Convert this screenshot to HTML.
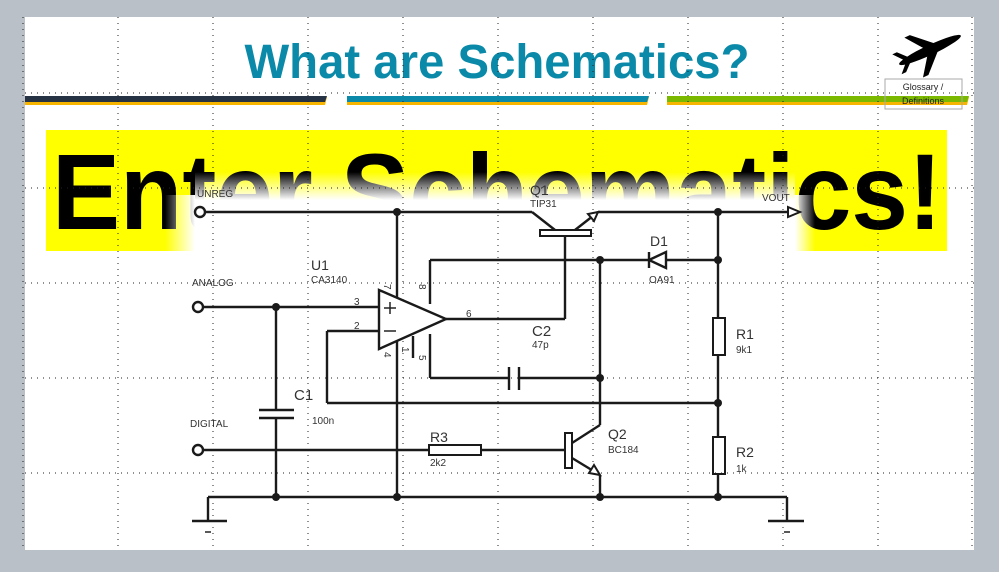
<!DOCTYPE html>
<html><head><meta charset="utf-8"><style>
html,body{margin:0;padding:0;background:#b9c0c7;}
svg{display:block;}
</style></head><body>
<svg width="999" height="572" viewBox="0 0 999 572" xmlns="http://www.w3.org/2000/svg">
<defs>
<linearGradient id="gt" x1="0" y1="0" x2="0" y2="1">
<stop offset="0" stop-color="#fff" stop-opacity="0"/><stop offset="1" stop-color="#fff" stop-opacity="1"/></linearGradient>
<linearGradient id="gl" x1="0" y1="0" x2="1" y2="0">
<stop offset="0" stop-color="#fff" stop-opacity="0"/><stop offset="1" stop-color="#fff" stop-opacity="1"/></linearGradient>
<linearGradient id="gr" x1="1" y1="0" x2="0" y2="0">
<stop offset="0" stop-color="#fff" stop-opacity="0"/><stop offset="1" stop-color="#fff" stop-opacity="1"/></linearGradient>
</defs>
<rect x="25" y="17" width="949" height="533" fill="#fff"/>
<text x="497" y="78" text-anchor="middle" font-family="Liberation Sans Narrow, Liberation Sans, sans-serif" font-weight="bold" font-size="48" fill="#0a8aa8" textLength="505" lengthAdjust="spacingAndGlyphs">What are Schematics?</text>
<g fill="#000" transform="translate(930,50) rotate(-25)">
<ellipse cx="0" cy="0" rx="34" ry="5"/>
<polygon points="-4,-3 -18,-22 -12,-22 8,-3"/>
<polygon points="-4,3 -18,22 -12,22 8,3"/>
<polygon points="-28,-2 -36,-12 -31,-12 -22,-2"/>
<polygon points="-28,2 -36,10 -31,10 -22,2"/>
</g>
<polygon points="25,97 327,97 325,105 25,105" fill="#f7b500"/>
<polygon points="25,96 327,96 325,102 25,102" fill="#253345"/>
<polygon points="347,97 649,97 647,105 347,105" fill="#f7b500"/>
<polygon points="347,96 649,96 647,102 347,102" fill="#0a8aa8"/>
<polygon points="667,97 969,97 967,105 667,105" fill="#f7b500"/>
<polygon points="667,96 969,96 967,102 667,102" fill="#7bb800"/>
<rect x="885" y="79" width="77" height="30" fill="none" stroke="#aaa" stroke-width="1"/>
<text x="923" y="90" text-anchor="middle" font-family="Liberation Sans, sans-serif" font-size="9" fill="#222">Glossary /</text>
<text x="923" y="104" text-anchor="middle" font-family="Liberation Sans, sans-serif" font-size="9" fill="#222">Definitions</text>
<rect x="46" y="130" width="901" height="121" fill="#ffff00"/>
<text x="52" y="229" font-family="Liberation Sans Narrow, Liberation Sans, sans-serif" font-weight="bold" font-size="108" fill="#000" textLength="890" lengthAdjust="spacingAndGlyphs">Enter Schematics!</text>
<rect x="195" y="172" width="600" height="28" fill="url(#gt)"/>
<rect x="195" y="200" width="600" height="350" fill="#fff"/>
<rect x="165" y="195" width="30" height="60" fill="url(#gl)"/>
<rect x="795" y="195" width="20" height="60" fill="url(#gr)"/>
<g stroke="#222" stroke-width="1" stroke-dasharray="1,5">
<line x1="23" y1="17" x2="23" y2="550"/>
<line x1="118" y1="17" x2="118" y2="550"/><line x1="213" y1="17" x2="213" y2="550"/>
<line x1="308" y1="17" x2="308" y2="550"/><line x1="403" y1="17" x2="403" y2="550"/>
<line x1="498" y1="17" x2="498" y2="550"/><line x1="593" y1="17" x2="593" y2="550"/>
<line x1="688" y1="17" x2="688" y2="550"/><line x1="783" y1="17" x2="783" y2="550"/>
<line x1="878" y1="17" x2="878" y2="550"/><line x1="972" y1="17" x2="972" y2="550"/>
<line x1="25" y1="93" x2="974" y2="93"/><line x1="25" y1="188" x2="974" y2="188"/>
<line x1="25" y1="283" x2="974" y2="283"/><line x1="25" y1="378" x2="974" y2="378"/>
<line x1="25" y1="473" x2="974" y2="473"/>
</g>
<g stroke="#1a1a1a" stroke-width="2.4" fill="none">
<circle cx="200" cy="212" r="5" fill="#fff"/>
<circle cx="198" cy="307" r="5" fill="#fff"/>
<circle cx="198" cy="450" r="5" fill="#fff"/>
<line x1="205" y1="212" x2="532" y2="212"/>
<line x1="532" y1="212" x2="555" y2="230"/>
<rect x="540" y="230" width="51" height="6" stroke-width="2"/>
<line x1="575" y1="230" x2="598" y2="212"/>
<polygon points="598,212 588,214 594,221" fill="#fff" stroke-width="2"/>
<line x1="598" y1="212" x2="788" y2="212"/>
<polygon points="788,207 800,212 788,217" fill="#fff" stroke-width="2"/>
<line x1="565" y1="236" x2="565" y2="319"/>
<line x1="446" y1="319" x2="565" y2="319"/>
<line x1="397" y1="212" x2="397" y2="497"/>
<polygon points="379,290 446,319 379,349" fill="#fff"/>
<line x1="430" y1="304" x2="430" y2="260"/>
<line x1="430" y1="260" x2="649" y2="260"/>
<line x1="649" y1="252" x2="649" y2="268"/>
<polygon points="649,260 666,252 666,268" fill="#fff"/>
<line x1="666" y1="260" x2="718" y2="260"/>
<line x1="413" y1="336" x2="413" y2="358"/>
<line x1="430" y1="334" x2="430" y2="378"/>
<line x1="430" y1="378" x2="509" y2="378"/>
<line x1="509" y1="367" x2="509" y2="390"/>
<line x1="519" y1="367" x2="519" y2="390"/>
<line x1="519" y1="378" x2="600" y2="378"/>
<line x1="203" y1="307" x2="379" y2="307"/>
<line x1="379" y1="331" x2="327" y2="331"/>
<line x1="327" y1="331" x2="327" y2="403"/>
<line x1="327" y1="403" x2="718" y2="403"/>
<line x1="276" y1="307" x2="276" y2="410"/>
<line x1="259" y1="410" x2="294" y2="410"/>
<line x1="259" y1="418" x2="294" y2="418"/>
<line x1="276" y1="418" x2="276" y2="497"/>
<line x1="203" y1="450" x2="429" y2="450"/>
<rect x="429" y="445" width="52" height="10" stroke-width="2"/>
<line x1="481" y1="450" x2="565" y2="450"/>
<rect x="565" y="433" width="7" height="35" stroke-width="2"/>
<line x1="572" y1="443" x2="600" y2="425"/>
<line x1="600" y1="425" x2="600" y2="260"/>
<line x1="572" y1="458" x2="600" y2="475"/>
<polygon points="600,475 589,473 594,465" fill="#fff" stroke-width="2"/>
<line x1="600" y1="475" x2="600" y2="497"/>
<line x1="718" y1="212" x2="718" y2="318"/>
<rect x="713" y="318" width="12" height="37" stroke-width="2"/>
<line x1="718" y1="355" x2="718" y2="437"/>
<rect x="713" y="437" width="12" height="37" stroke-width="2"/>
<line x1="718" y1="474" x2="718" y2="497"/>
<line x1="208" y1="497" x2="787" y2="497"/>
<line x1="208" y1="497" x2="208" y2="521"/>
<line x1="192" y1="521" x2="227" y2="521"/>
<line x1="787" y1="497" x2="787" y2="521"/>
<line x1="768" y1="521" x2="804" y2="521"/>
</g>
<g stroke="#222" stroke-width="1.5" fill="none">
<line x1="205" y1="532" x2="211" y2="532"/><line x1="784" y1="532" x2="790" y2="532"/>
<line x1="384" y1="308" x2="396" y2="308"/><line x1="390" y1="302" x2="390" y2="314"/>
<line x1="384" y1="331" x2="396" y2="331"/>
</g>
<g fill="#1a1a1a">
<circle cx="397" cy="212" r="4"/><circle cx="718" cy="212" r="4"/>
<circle cx="600" cy="260" r="4"/><circle cx="718" cy="260" r="4"/>
<circle cx="276" cy="307" r="4"/><circle cx="600" cy="378" r="4"/>
<circle cx="718" cy="403" r="4"/>
<circle cx="276" cy="497" r="4"/><circle cx="397" cy="497" r="4"/>
<circle cx="600" cy="497" r="4"/><circle cx="718" cy="497" r="4"/>
</g>
<g font-family="Liberation Sans, sans-serif" fill="#333">
<text x="197" y="197" font-size="10">UNREG</text>
<text x="762" y="201" font-size="10">VOUT</text>
<text x="530" y="195" font-size="14">Q1</text>
<text x="530" y="207" font-size="10">TIP31</text>
<text x="192" y="286" font-size="10">ANALOG</text>
<text x="190" y="427" font-size="10">DIGITAL</text>
<text x="311" y="270" font-size="14">U1</text>
<text x="311" y="283" font-size="10">CA3140</text>
<text x="354" y="305" font-size="10">3</text>
<text x="354" y="329" font-size="10">2</text>
<text x="466" y="317" font-size="10">6</text>
<text x="532" y="336" font-size="15">C2</text>
<text x="532" y="348" font-size="10">47p</text>
<text x="294" y="400" font-size="15">C1</text>
<text x="312" y="424" font-size="10">100n</text>
<text x="430" y="442" font-size="14">R3</text>
<text x="430" y="466" font-size="10">2k2</text>
<text x="608" y="439" font-size="14">Q2</text>
<text x="608" y="453" font-size="10">BC184</text>
<text x="650" y="246" font-size="14">D1</text>
<text x="649" y="283" font-size="10">OA91</text>
<text x="736" y="339" font-size="14">R1</text>
<text x="736" y="353" font-size="10">9k1</text>
<text x="736" y="457" font-size="14">R2</text>
<text x="736" y="472" font-size="10">1k</text>
<text transform="translate(384,284) rotate(90)" font-size="10">7</text>
<text transform="translate(419,284) rotate(90)" font-size="10">8</text>
<text transform="translate(384,352) rotate(90)" font-size="10">4</text>
<text transform="translate(402,347) rotate(90)" font-size="10">1</text>
<text transform="translate(419,355) rotate(90)" font-size="10">5</text>
</g>
</svg>
</body></html>
